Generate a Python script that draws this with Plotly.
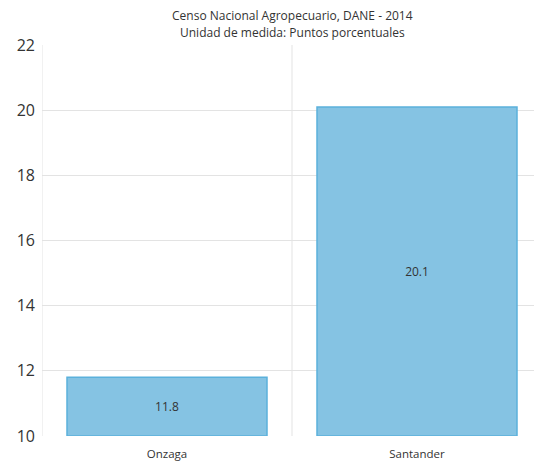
import plotly.graph_objects as go

categories = ["Onzaga", "Santander"]
values = [11.8, 20.1]
axis_base = 10
y_ticks = [10, 12, 14, 16, 18, 20, 22]
subtitle1 = "Censo Nacional Agropecuario, DANE - 2014"
subtitle2 = "Unidad de medida: Puntos porcentuales"

x_pos = list(range(len(categories)))

fig = go.Figure()
fig.add_trace(go.Bar(
    x=x_pos,
    y=[v - axis_base for v in values],
    base=axis_base,
    width=0.8,
    marker=dict(color="#85C3E3", line=dict(color="#5BB1DC", width=1.5)),
    text=[f"{v:.1f}" for v in values],
    textposition="inside",
    insidetextanchor="middle",
    textfont=dict(family="Open Sans, sans-serif", size=12, color="#333333"),
    hoverinfo="skip",
))

# vertical separators between categories
for xv in [-0.5 + i for i in range(len(categories) + 1)]:
    fig.add_shape(type="line", xref="x", yref="paper", x0=xv, x1=xv, y0=0, y1=1,
                  line=dict(color="#E3E3E3", width=1), layer="below")

fig.update_layout(
    width=534, height=454,
    margin=dict(l=34, r=0, t=37, b=26, autoexpand=False),
    paper_bgcolor="white", plot_bgcolor="white",
    showlegend=False,
    font=dict(family="Open Sans, sans-serif", color="#333333"),
)
fig.add_annotation(text=subtitle1, x=0.5, xref="paper", y=1, yref="paper", yshift=30,
                   showarrow=False, font=dict(size=12, color="#333333"), yanchor="middle")
fig.add_annotation(text=subtitle2, x=0.5, xref="paper", y=1, yref="paper", yshift=13,
                   showarrow=False, font=dict(size=12, color="#333333"), yanchor="middle")

fig.update_xaxes(
    range=[-0.5, len(categories) - 0.5],
    tickvals=x_pos, ticktext=categories,
    showgrid=False, zeroline=False, showline=False,
    tickfont=dict(size=11.5, color="#333333"),
    ticks="", ticklen=0, automargin=False, ticklabelstandoff=9,
)
fig.update_yaxes(
    range=[10, 22],
    tickvals=y_ticks,
    showgrid=True, gridcolor="#E3E3E3", gridwidth=1,
    zeroline=False, showline=False,
    tickfont=dict(size=16, color="#333333"),
    ticks="", automargin=False, ticklabelstandoff=6,
)

fig.write_html("out.html")
